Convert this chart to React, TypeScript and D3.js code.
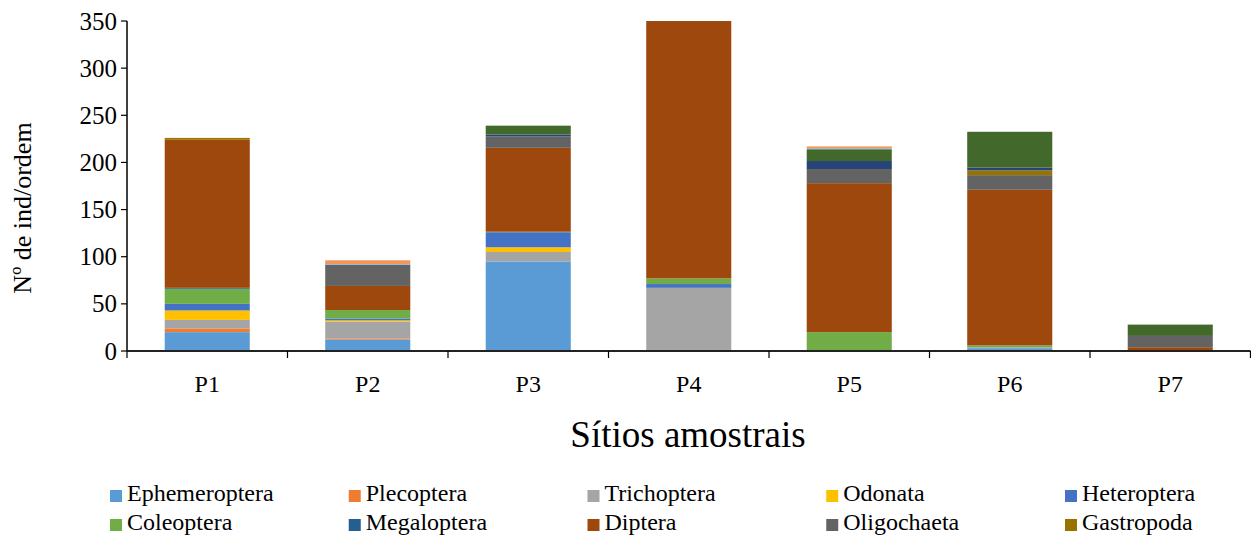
import { useMemo } from 'react';
import * as d3 from 'd3';

// sample sites
const sites = ['P1', 'P2', 'P3', 'P4', 'P5', 'P6', 'P7'];

// individuals per order (P1..P7)
const ephemeroptera = [20, 12, 95, 1, 0, 3, 0];
const plecoptera = [4, 1, 0, 0, 0, 0, 0];
const trichoptera = [9, 18, 10, 66, 0, 1, 0];
const odonata = [10, 1.5, 5, 0, 1, 0, 0];
const heteroptera = [7, 2, 16, 4, 0, 0, 0];
const coleoptera = [16, 9, 0.5, 6, 19, 2, 0];
const megaloptera = [1, 0, 0, 0, 0, 0, 0];
const diptera = [157, 25.5, 89, 273, 158, 165, 4];
const oligochaeta = [0, 22.5, 12, 0, 15, 15.5, 12];
const gastropoda = [2, 0, 0, 0, 0, 5, 0];
// series whose legend entries are cut off in the original
const serie11 = [0, 0, 2, 0, 8.5, 3, 0];
const serie12 = [0, 0, 9.5, 0, 12.5, 38, 12];
const serie13 = [0, 0.7, 0, 0, 1, 0, 0];
const serie14 = [0, 4, 0, 0, 2, 0, 0];

const seriesNames = [
  'Ephemeroptera', 'Plecoptera', 'Trichoptera', 'Odonata', 'Heteroptera',
  'Coleoptera', 'Megaloptera', 'Diptera', 'Oligochaeta', 'Gastropoda',
  'Série 11', 'Série 12', 'Série 13', 'Série 14',
];
const seriesValues = [
  ephemeroptera, plecoptera, trichoptera, odonata, heteroptera,
  coleoptera, megaloptera, diptera, oligochaeta, gastropoda,
  serie11, serie12, serie13, serie14,
];
const colors = [
  '#5B9BD5', '#ED7D31', '#A5A5A5', '#FFC000', '#4472C4',
  '#70AD47', '#255E91', '#9E480E', '#636363', '#997300',
  '#264478', '#43682B', '#7CAFDD', '#F1975A',
];
const legendCount = 10;
const yTicks = [0, 50, 100, 150, 200, 250, 300, 350];

const W = 1251;
const H = 536;
const FONT = 'Liberation Serif';

const App = () => {
  const x = d3.scaleBand<string>().domain(sites).range([127, 1250.5]).paddingInner(0.47).paddingOuter(0.235);
  const y = d3.scaleLinear().domain([0, 350]).range([351, 21]);

  const stacked = useMemo(() => {
    const rows = sites.map((s, i) => {
      const r: Record<string, number | string> = { site: s };
      seriesNames.forEach((n, k) => { r[n] = seriesValues[k][i]; });
      return r;
    });
    return d3.stack<any>().keys(seriesNames)(rows);
  }, []);

  const step = x.step();
  const left = 127;

  return (
    <svg width={W} height={H} style={{ position: 'absolute', left: 0, top: 0, background: '#fff' }}>
      {/* bars */}
      {stacked.map((layer, k) => (
        <g key={layer.key} fill={colors[k]}>
          {layer.map((d, i) => {
            const h = y(d[0]) - y(d[1]);
            if (h <= 0) return null;
            return <rect key={i} x={x(sites[i])} width={x.bandwidth()} y={y(d[1])} height={h} />;
          })}
        </g>
      ))}

      <g fontFamily={FONT} fill="#000">
        {/* y axis */}
        <line x1={left} x2={left} y1={21} y2={351} stroke="#000" strokeWidth={1.5} />
        {yTicks.map(t => (
          <g key={t}>
            <line x1={left - 6} x2={left} y1={y(t)} y2={y(t)} stroke="#000" strokeWidth={1.2} />
            <text x={left - 10} y={y(t)} dy="0.34em" textAnchor="end" fontSize={25}>{t}</text>
          </g>
        ))}

        {/* x axis */}
        <line x1={left} x2={1250.5} y1={351} y2={351} stroke="#222" strokeWidth={2} />
        {d3.range(sites.length + 1).map(i => (
          <line key={i} x1={left + i * step} x2={left + i * step} y1={351} y2={358} stroke="#000" strokeWidth={1.2} />
        ))}
        {sites.map(s => (
          <text key={s} x={(x(s) ?? 0) + x.bandwidth() / 2} y={392} textAnchor="middle" fontSize={24}>{s}</text>
        ))}

        {/* titles */}
        <text x={688} y={447} textAnchor="middle" fontSize={37}>Sítios amostrais</text>
        <text transform="translate(31,208) rotate(-90)" textAnchor="middle" fontSize={26}>Nº de ind/ordem</text>

        {/* legend */}
        {seriesNames.slice(0, legendCount).map((n, k) => {
          const col = k % 5;
          const row = Math.floor(k / 5);
          const lx = 110 + col * 238.75;
          const ly = 490 + row * 29;
          return (
            <g key={n}>
              <rect x={lx} y={ly} width={12} height={12} fill={colors[k]} />
              <text x={lx + 17} y={ly + 11} fontSize={24}>{n}</text>
            </g>
          );
        })}
      </g>
    </svg>
  );
};

export default App;
